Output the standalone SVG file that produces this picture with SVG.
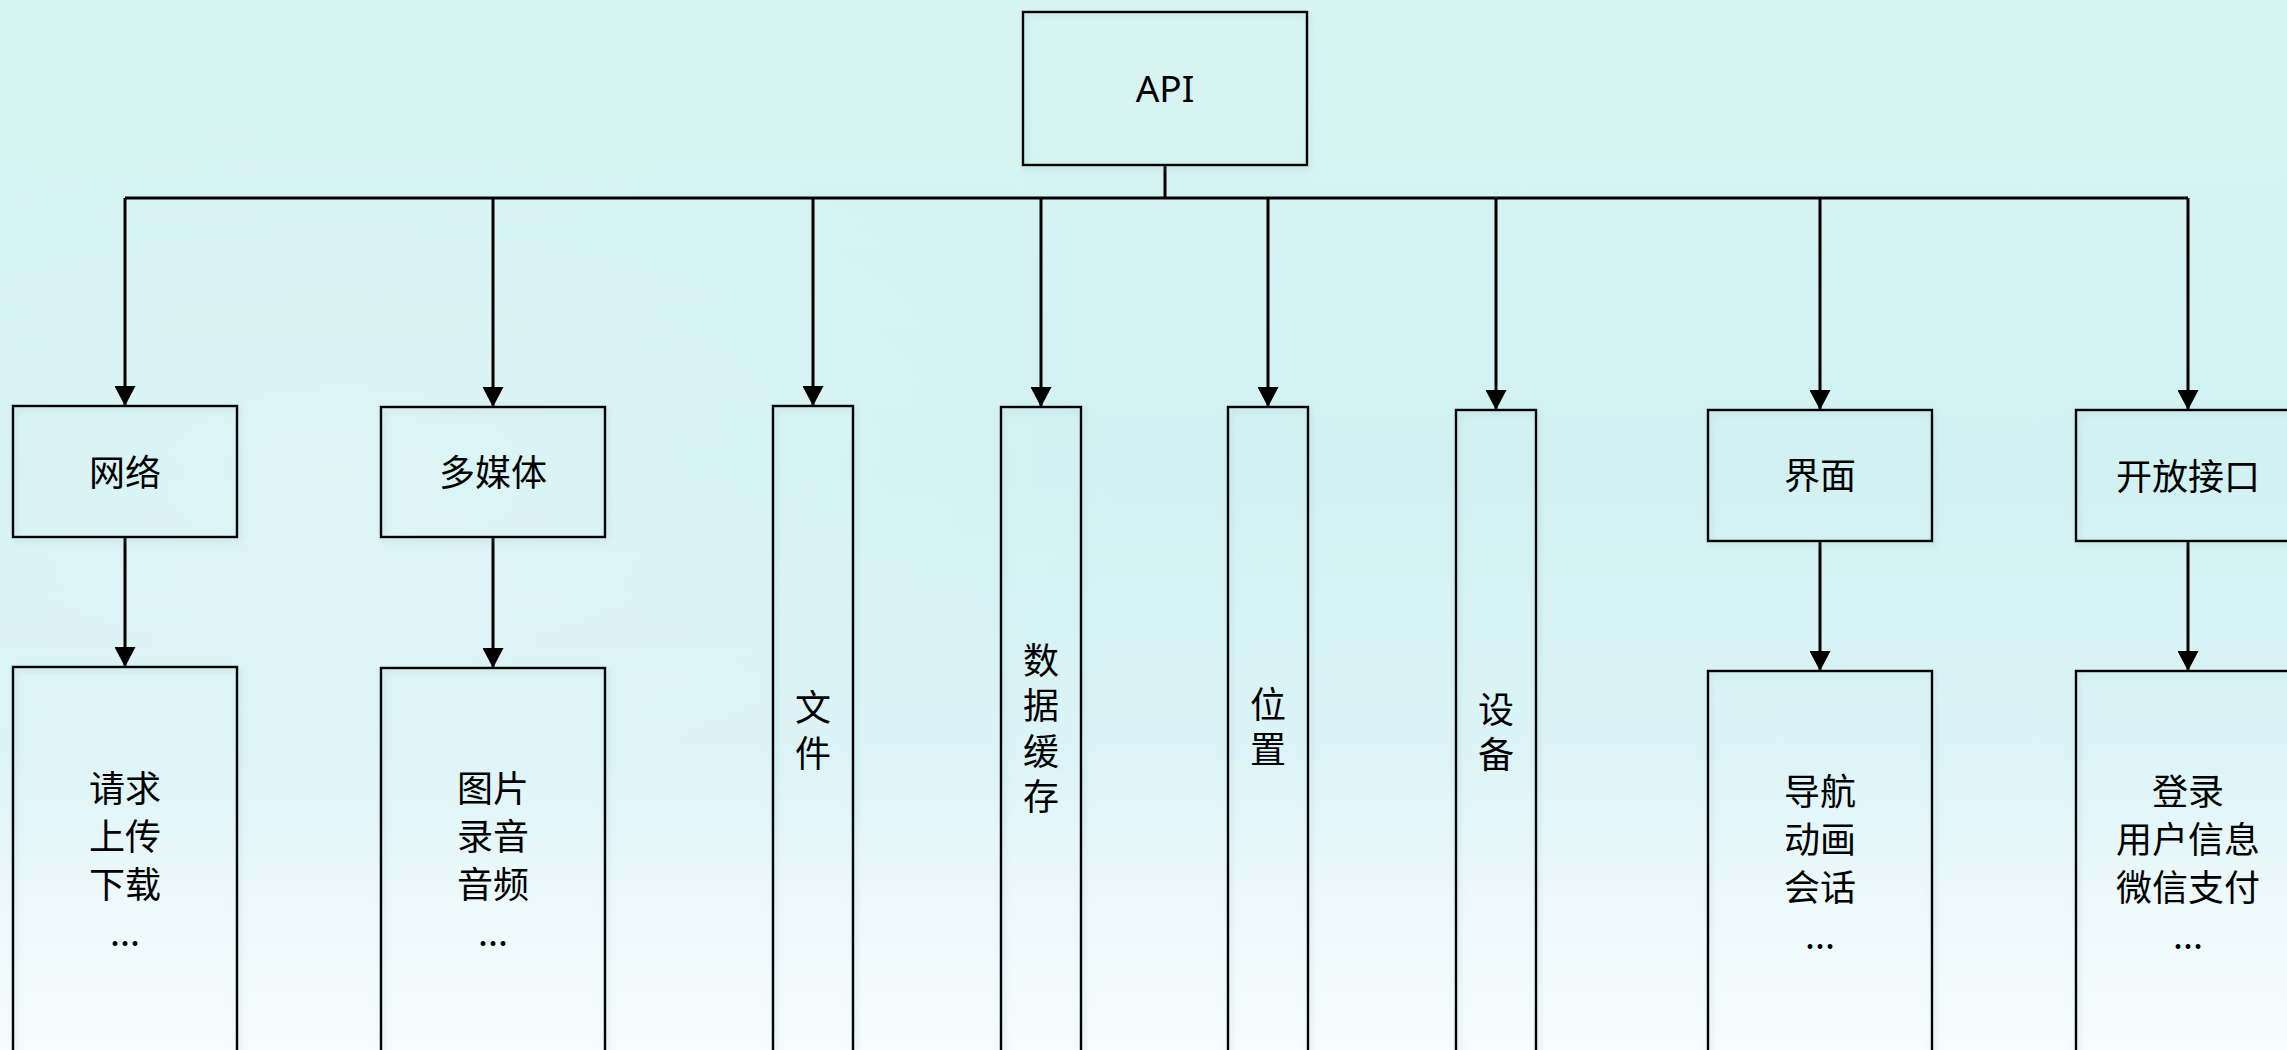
<svg xmlns="http://www.w3.org/2000/svg" width="2287" height="1050" viewBox="0 0 2287 1050">
<defs>
<linearGradient id="bg" x1="0" y1="0" x2="0" y2="1">
<stop offset="0" stop-color="#d8f4f2"/>
<stop offset="0.45" stop-color="#d2f1f2"/>
<stop offset="0.72" stop-color="#dcf4f7"/>
<stop offset="0.86" stop-color="#eef9fb"/>
<stop offset="1" stop-color="#f7fcfd"/>
</linearGradient>
<radialGradient id="glow" cx="0.15" cy="0.45" r="0.35">
<stop offset="0" stop-color="#ffffff" stop-opacity="0.25"/>
<stop offset="1" stop-color="#ffffff" stop-opacity="0"/>
</radialGradient>
<filter id="sh" x="-10%" y="-10%" width="120%" height="120%">
<feDropShadow dx="2" dy="3" stdDeviation="3" flood-color="#7fb8bd" flood-opacity="0.35"/>
</filter>
<marker id="arr" viewBox="0 0 20 21" refX="20" refY="10.5" markerWidth="20" markerHeight="21" markerUnits="userSpaceOnUse" orient="auto">
<path d="M0,0 L20,10.5 L0,21 z" fill="#000"/>
</marker>
</defs>
<style>
.box{fill:none;stroke:#000;stroke-width:2.5;filter:url(#sh)}
.con{fill:none;stroke:#000;stroke-width:3;marker-end:url(#arr)}
.stem{fill:none;stroke:#000;stroke-width:3}
.t{font-family:"Noto Sans CJK SC","Noto Sans",sans-serif;font-size:36px;fill:#000;text-anchor:middle}
.v{font-family:"Noto Sans CJK SC","Noto Sans",sans-serif;font-size:36px;fill:#000;writing-mode:vertical-rl;text-anchor:start;letter-spacing:9.5px}
.lat{font-family:"Noto Sans","Open Sans",sans-serif;font-size:37px;fill:#000;text-anchor:middle}
</style>
<rect x="0" y="0" width="2287" height="1050" fill="url(#bg)"/>
<rect x="0" y="0" width="2287" height="1050" fill="url(#glow)"/>

<g id="connectors">
<path class="stem" d="M1165,165 V198 H125 M1165,198 H2188"/>
<path class="con" d="M125,198 V406"/>
<path class="con" d="M493,198 V407"/>
<path class="con" d="M813,198 V406"/>
<path class="con" d="M1041,198 V407"/>
<path class="con" d="M1268,198 V407"/>
<path class="con" d="M1496,198 V410"/>
<path class="con" d="M1820,198 V410"/>
<path class="con" d="M2188,198 V410"/>
<path class="con" d="M125,537 V667"/>
<path class="con" d="M493,537 V668"/>
<path class="con" d="M1820,541 V671"/>
<path class="con" d="M2188,541 V671"/>
</g>

<g id="api"><rect class="box" x="1023" y="12" width="284" height="153"/><text class="lat" x="1165" y="102">API</text></g>

<g id="wangluo"><rect class="box" x="13" y="406" width="224" height="131"/><text class="t" x="125" y="486">网络</text></g>
<g id="wangluo-items"><rect class="box" x="13" y="667" width="224" height="400"/>
<text class="t" x="125" y="802">请求</text><text class="t" x="125" y="850">上传</text><text class="t" x="125" y="898">下载</text><text class="t" x="125" y="946">...</text></g>

<g id="duomeiti"><rect class="box" x="381" y="407" width="224" height="130"/><text class="t" x="493" y="486">多媒体</text></g>
<g id="duomeiti-items"><rect class="box" x="381" y="668" width="224" height="400"/>
<text class="t" x="493" y="802">图片</text><text class="t" x="493" y="850">录音</text><text class="t" x="493" y="898">音频</text><text class="t" x="493" y="946">...</text></g>

<g id="wenjian"><rect class="box" x="773" y="406" width="80" height="660"/>
<text class="v" x="813" y="689" style="letter-spacing:10px">文件</text></g>

<g id="shujuhuancun"><rect class="box" x="1001" y="407" width="80" height="660"/>
<text class="v" x="1041" y="642">数据缓存</text></g>

<g id="weizhi"><rect class="box" x="1228" y="407" width="80" height="660"/>
<text class="v" x="1268" y="686">位置</text></g>

<g id="shebei"><rect class="box" x="1456" y="410" width="80" height="660"/>
<text class="v" x="1496" y="691">设备</text></g>

<g id="jiemian"><rect class="box" x="1708" y="410" width="224" height="131"/><text class="t" x="1820" y="489">界面</text></g>
<g id="jiemian-items"><rect class="box" x="1708" y="671" width="224" height="400"/>
<text class="t" x="1820" y="805">导航</text><text class="t" x="1820" y="853">动画</text><text class="t" x="1820" y="901">会话</text><text class="t" x="1820" y="949">...</text></g>

<g id="kaifangjiekou"><rect class="box" x="2076" y="410" width="224" height="131"/><text class="t" x="2188" y="490">开放接口</text></g>
<g id="kaifangjiekou-items"><rect class="box" x="2076" y="671" width="224" height="400"/>
<text class="t" x="2188" y="805">登录</text><text class="t" x="2188" y="853">用户信息</text><text class="t" x="2188" y="901">微信支付</text><text class="t" x="2188" y="949">...</text></g>
</svg>
